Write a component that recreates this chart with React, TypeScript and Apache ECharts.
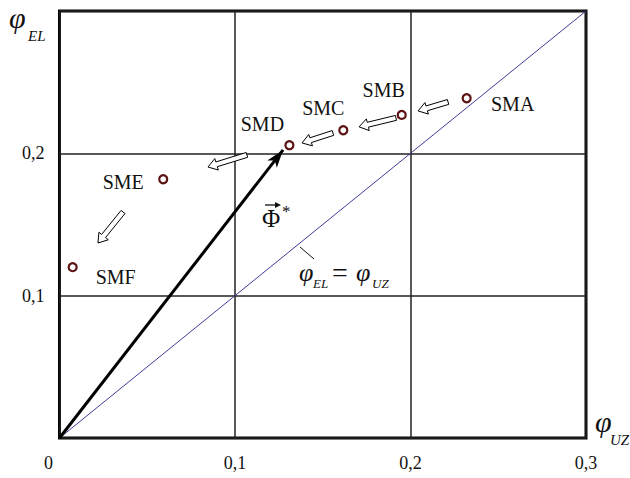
import React, { useEffect, useRef } from 'react';
import * as echarts from 'echarts';

// ---- data ----
const pointNames = ['SMA', 'SMB', 'SMC', 'SMD', 'SME', 'SMF'];
const phiUZ = [0.232, 0.195, 0.1617, 0.131, 0.0591, 0.0075];
const phiEL = [0.2387, 0.227, 0.2162, 0.2057, 0.1818, 0.12];
const xTicks = [0, 0.1, 0.2, 0.3];
const yTickLabels = ['0,1', '0,2'];
const shiftTails = [[0.2214, 0.2361], [0.1917, 0.2249], [0.1558, 0.2143], [0.1068, 0.1989], [0.0362, 0.1588]];
const shiftTips = [[0.2043, 0.2298], [0.1707, 0.2186], [0.1382, 0.2073], [0.0846, 0.1904], [0.0219, 0.137]];
const vectorStart = [0, 0];
const vectorEnd = [0.1274, 0.2024];
const diagonal = [[0, 0], [0.3, 0.3]];

const SERIF = 'Liberation Serif';
const labelOffsets = [[46, 6], [-18, -25], [-20, -22], [-27, -21], [-40, 3], [43, 10]];

export default function App() {
  const ref = useRef<HTMLDivElement>(null);
  useEffect(() => {
    if (!ref.current) return;
    const chart = echarts.init(ref.current, undefined, { renderer: 'svg' });
    const fmt = (v: number) => v.toFixed(1).replace('.', ',');
    const option: any = {
      animation: false,
      backgroundColor: '#fff',
      textStyle: { fontFamily: SERIF },
      grid: { left: 59.5, right: 44, top: 11, bottom: 40, show: true, borderColor: '#000', borderWidth: 3, backgroundColor: 'transparent' },
      xAxis: {
        type: 'value', min: 0, max: 0.3, interval: 0.1,
        axisLine: { show: false }, axisTick: { show: false },
        splitLine: { show: true, lineStyle: { color: '#222', width: 1.5 } },
        axisLabel: {
          margin: 16, fontSize: 18, color: '#111', fontFamily: SERIF,
          formatter: (v: number) => {
            const i = xTicks.findIndex((t) => Math.abs(t - v) < 1e-9);
            if (i < 0) return '';
            return i === 0 ? '{z|0}' : fmt(xTicks[i]);
          },
          rich: { z: { fontSize: 18, fontFamily: SERIF, color: '#111', padding: [0, 22, 0, 0] } },
        },
      },
      yAxis: {
        type: 'value', min: 0, max: 0.3, interval: 0.1,
        axisLine: { show: false }, axisTick: { show: false },
        splitLine: { show: true, lineStyle: { color: '#222', width: 1.5 } },
        axisLabel: {
          margin: 15, fontSize: 18, color: '#111', fontFamily: SERIF,
          formatter: (v: number) => {
            const s = fmt(v);
            return yTickLabels.includes(s) ? s : '';
          },
        },
      },
      series: [
        {
          type: 'line', data: diagonal, symbol: 'none', silent: true,
          lineStyle: { color: '#3d3d96', width: 1 }, z: 2,
        },
        {
          type: 'line', data: [], symbol: 'none', silent: true,
          markLine: {
            silent: true, symbol: ['none', 'arrow'], symbolSize: [9, 18],
            label: { show: false },
            lineStyle: { color: '#000', width: 3, type: 'solid' },
            data: [[{ coord: vectorStart }, { coord: vectorEnd }]],
          },
          z: 3,
        },
        {
          type: 'custom',
          data: shiftTails.map((t, i) => [t[0], t[1], shiftTips[i][0], shiftTips[i][1]]),
          encode: { x: [0, 2], y: [1, 3] },
          renderItem: (params: any, api: any) => {
            const a = api.coord([api.value(0), api.value(1)]);
            const b = api.coord([api.value(2), api.value(3)]);
            const dx = b[0] - a[0], dy = b[1] - a[1];
            const len = Math.hypot(dx, dy);
            const ux = dx / len, uy = dy / len;
            const nx = -uy, ny = ux;
            const hw = 2.5, hh = 6, hl = 9;
            const nk = [b[0] - ux * hl, b[1] - uy * hl];
            const pts = [
              [a[0] + nx * hw, a[1] + ny * hw],
              [nk[0] + nx * hw, nk[1] + ny * hw],
              [nk[0] + nx * hh, nk[1] + ny * hh],
              b,
              [nk[0] - nx * hh, nk[1] - ny * hh],
              [nk[0] - nx * hw, nk[1] - ny * hw],
              [a[0] - nx * hw, a[1] - ny * hw],
            ];
            return { type: 'polygon', shape: { points: pts }, style: { fill: '#fff', stroke: '#000', lineWidth: 1 } };
          },
          z: 4,
        },
        {
          type: 'scatter', symbol: 'circle', symbolSize: 8,
          itemStyle: { color: '#fff', borderColor: '#5c1414', borderWidth: 2.2, opacity: 1 },
          data: pointNames.map((n, i) => ({
            name: n, value: [phiUZ[i], phiEL[i]],
            label: { offset: labelOffsets[i] },
          })),
          label: {
            show: true, position: 'inside', formatter: '{b}',
            fontSize: 20, fontFamily: SERIF, color: '#111',
          },
          z: 5,
        },
      ],
      graphic: [
        { type: 'text', x: 9, y: 2, style: { text: 'φ', font: 'italic 30px ' + SERIF, fill: '#111' } },
        { type: 'text', x: 28, y: 28, style: { text: 'EL', font: 'italic 15px ' + SERIF, fill: '#111' } },
        { type: 'text', x: 595, y: 406, style: { text: 'φ', font: 'italic 30px ' + SERIF, fill: '#111' } },
        { type: 'text', x: 610, y: 432, style: { text: 'UZ', font: 'italic 15px ' + SERIF, fill: '#111' } },
        { type: 'text', x: 262, y: 206, style: { text: 'Φ', font: '25px ' + SERIF, fill: '#111' } },
        { type: 'line', shape: { x1: 265, y1: 205, x2: 276, y2: 205 }, style: { stroke: '#111', lineWidth: 1.3 } },
        { type: 'polygon', shape: { points: [[275, 202], [281, 205], [275, 208]] }, style: { fill: '#111' } },
        { type: 'text', x: 282, y: 203, style: { text: '*', font: '17px ' + SERIF, fill: '#111' } },
        { type: 'line', shape: { x1: 300, y1: 247, x2: 314, y2: 259 }, style: { stroke: '#111', lineWidth: 1 } },
        { type: 'text', x: 299, y: 259, style: { text: 'φ', font: 'italic 26px ' + SERIF, fill: '#111' } },
        { type: 'text', x: 313, y: 277, style: { text: 'EL', font: 'italic 13px ' + SERIF, fill: '#111' } },
        { type: 'text', x: 332, y: 258, style: { text: '=', font: '28px ' + SERIF, fill: '#111' } },
        { type: 'text', x: 356, y: 259, style: { text: 'φ', font: 'italic 26px ' + SERIF, fill: '#111' } },
        { type: 'text', x: 372, y: 277, style: { text: 'UZ', font: 'italic 13px ' + SERIF, fill: '#111' } },
      ],
    };
    chart.setOption(option);
    return () => chart.dispose();
  }, []);
  return <div ref={ref} style={{ position: 'absolute', left: 0, top: 0, width: 630, height: 478, background: '#fff' }} />;
}
